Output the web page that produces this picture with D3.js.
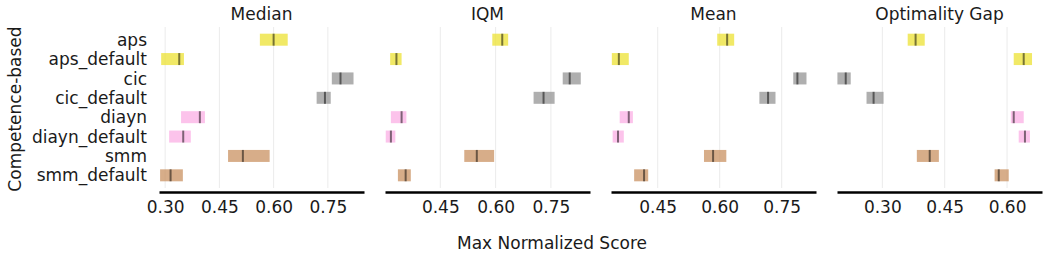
<!DOCTYPE html>
<html>
<head>
<meta charset="utf-8">
<script src="https://cdn.jsdelivr.net/npm/d3@7"></script>
<style>
  body { margin: 0; background: #fff; }
  text { font-family: "DejaVu Sans", sans-serif; fill: #1a1a1a; }
</style>
</head>
<body>
<div id="chart"></div>
<script>
var methods = ["aps", "aps_default", "cic", "cic_default", "diayn", "diayn_default", "smm", "smm_default"];
var methodColors = ["#ece133", "#ece133", "#949494", "#949494", "#fbafe4", "#fbafe4", "#ca9161", "#ca9161"];

var metricNames = ["Median", "IQM", "Mean", "Optimality Gap"];

// [low, high] interval and point estimate per method
var medianCI = [[0.562, 0.639], [0.289, 0.352], [0.761, 0.821], [0.719, 0.758], [0.344, 0.410], [0.311, 0.371], [0.474, 0.589], [0.286, 0.349]];
var medianPt = [0.600, 0.339, 0.785, 0.742, 0.396, 0.350, 0.515, 0.315];

var iqmCI = [[0.591, 0.634], [0.314, 0.345], [0.782, 0.831], [0.703, 0.760], [0.316, 0.358], [0.302, 0.328], [0.515, 0.596], [0.335, 0.370]];
var iqmPt = [0.618, 0.331, 0.801, 0.730, 0.345, 0.316, 0.549, 0.356];

var meanCI = [[0.594, 0.635], [0.339, 0.380], [0.778, 0.810], [0.696, 0.735], [0.358, 0.390], [0.341, 0.368], [0.562, 0.616], [0.393, 0.427]];
var meanPt = [0.618, 0.356, 0.788, 0.717, 0.380, 0.354, 0.584, 0.417];

var gapCI = [[0.361, 0.402], [0.616, 0.660], [0.192, 0.224], [0.262, 0.303], [0.609, 0.640], [0.628, 0.655], [0.383, 0.436], [0.570, 0.604]];
var gapPt = [0.380, 0.640, 0.212, 0.279, 0.616, 0.643, 0.414, 0.580];

var panelTicks = [
  [0.30, 0.45, 0.60, 0.75],
  [0.45, 0.60, 0.75],
  [0.45, 0.60, 0.75],
  [0.30, 0.45, 0.60]
];
var panelDomains = [[0.283, 0.850], [0.300, 0.856], [0.337, 0.833], [0.191, 0.684]];

var allCI = [medianCI, iqmCI, meanCI, gapCI];
var allPt = [medianPt, iqmPt, meanPt, gapPt];

var width = 1048, height = 260;
var panelLeft = [159, 385, 611, 837],
  panelWidth = 205,
  plotTop = 30,
  plotBottom = 185,
  axisY = 192;

var svg = d3.select("#chart")
  .append("svg")
  .attr("width", width)
  .attr("height", height);

var yScale = d3.scaleBand()
  .domain(methods)
  .range([plotTop, plotBottom])
  .padding(0);

var barH = 12;
var fmt = d3.format(".2f");

metricNames.forEach(function(name, p) {
  var x0 = panelLeft[p];
  var xScale = d3.scaleLinear()
    .domain(panelDomains[p])
    .range([x0, x0 + panelWidth]);

  var g = svg.append("g").attr("class", "panel");

  // vertical grid
  g.selectAll("line.grid")
    .data(panelTicks[p])
    .enter()
    .append("line")
    .attr("class", "grid")
    .attr("x1", function(d) { return xScale(d); })
    .attr("x2", function(d) { return xScale(d); })
    .attr("y1", 27)
    .attr("y2", 188)
    .attr("stroke", "#ebebeb")
    .attr("stroke-width", 1);

  // interval bars
  g.selectAll("rect.ci")
    .data(allCI[p])
    .enter()
    .append("rect")
    .attr("class", "ci")
    .attr("x", function(d) { return xScale(d[0]); })
    .attr("width", function(d) { return xScale(d[1]) - xScale(d[0]); })
    .attr("y", function(d, i) { return yScale(methods[i]) + yScale.bandwidth() / 2 - barH / 2; })
    .attr("height", barH)
    .attr("fill", function(d, i) { return methodColors[i]; })
    .attr("fill-opacity", 0.75);

  // point estimates
  g.selectAll("line.pt")
    .data(allPt[p])
    .enter()
    .append("line")
    .attr("class", "pt")
    .attr("x1", function(d) { return xScale(d); })
    .attr("x2", function(d) { return xScale(d); })
    .attr("y1", function(d, i) { return yScale(methods[i]) + yScale.bandwidth() / 2 - barH / 2; })
    .attr("y2", function(d, i) { return yScale(methods[i]) + yScale.bandwidth() / 2 + barH / 2; })
    .attr("stroke", "#000")
    .attr("stroke-opacity", 0.5)
    .attr("stroke-width", 2);

  // x axis
  var axis = d3.axisBottom(xScale)
    .tickValues(panelTicks[p])
    .tickFormat(fmt)
    .tickSize(0)
    .tickPadding(9);

  var ax = svg.append("g")
    .attr("transform", "translate(0," + axisY + ")")
    .call(axis);
  ax.select(".domain")
    .attr("stroke", "#000")
    .attr("stroke-width", 2.5);
  ax.selectAll(".tick text")
    .attr("font-size", "17px")
    .attr("font-family", "DejaVu Sans")
    .attr("fill", "#1a1a1a");

  // title
  svg.append("text")
    .attr("x", x0 + panelWidth / 2)
    .attr("y", 20)
    .attr("text-anchor", "middle")
    .attr("font-size", "17px")
    .text(name);
});

// method labels
svg.append("g")
  .selectAll("text")
  .data(methods)
  .enter()
  .append("text")
  .attr("x", 147)
  .attr("y", function(d) { return yScale(d) + yScale.bandwidth() / 2; })
  .attr("dy", "0.36em")
  .attr("text-anchor", "end")
  .attr("font-size", "17px")
  .text(function(d) { return d; });

svg.append("text")
  .attr("transform", "translate(21," + 109 + ") rotate(-90)")
  .attr("text-anchor", "middle")
  .attr("font-size", "17px")
  .text("Competence-based");

svg.append("text")
  .attr("x", 552)
  .attr("y", 249)
  .attr("text-anchor", "middle")
  .attr("font-size", "17px")
  .text("Max Normalized Score");
</script>
</body>
</html>
